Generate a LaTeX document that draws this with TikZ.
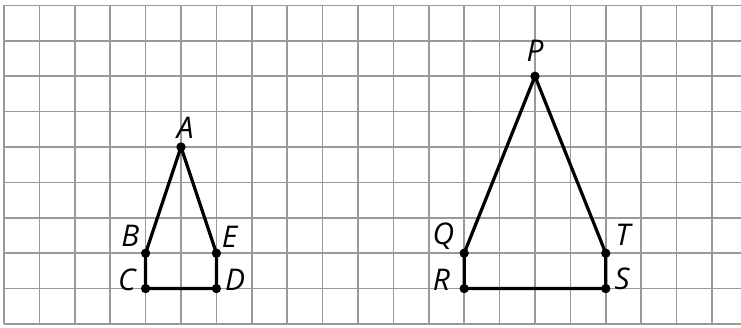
\documentclass[tikz,border=0pt]{standalone}
\usepackage{fontspec}
\setmainfont{Open Sans}
\tikzset{
    pt/.style={circle, fill=black, inner sep=0pt, minimum size=7.5pt},
    lbl/.style={font=\fontsize{24}{28}\selectfont\itshape, inner sep=1pt}
}
\begin{document}
\begin{tikzpicture}
    \useasboundingbox (-0.113,-0.085) rectangle (20.82,9.153);
    \draw[gray!80, line width=1.4pt] (0,0) grid (20.82,9);
    
    \node[pt] (A) at (5,5) {};
    \node[pt] (B) at (4,2) {};
    \node[pt] (C) at (4,1) {};
    \node[pt] (D) at (6,1) {};
    \node[pt] (E) at (6,2) {};
    
    \node[pt] (P) at (15,7) {};
    \node[pt] (Q) at (13,2) {};
    \node[pt] (R) at (13,1) {};
    \node[pt] (S) at (17,1) {};
    \node[pt] (T) at (17,2) {};
    
    \draw[line width=2.6pt, line join=round] (A.center) -- (B.center) -- (C.center) -- (D.center) -- (E.center) -- cycle;
    \draw[line width=2.6pt, line join=round] (P.center) -- (Q.center) -- (R.center) -- (S.center) -- (T.center) -- cycle;
    
    \node[lbl] (la) at (5.12,5.55) {A};
    \node[lbl] (lb) at (3.57,2.5) {B};
    \node[lbl] (lc) at (3.47,1.25) {C};
    \node[lbl] (ld) at (6.53,1.25) {D};
    \node[lbl] (le) at (6.37,2.47) {E};
    
    \node[lbl] (lp) at (15,7.72) {P};
    \node[lbl] (lq) at (12.41,2.47) {Q};
    \node[lbl] (lr) at (12.36,1.25) {R};
    \node[lbl] (ls) at (17.46,1.27) {S};
    \node[lbl] (lt) at (17.48,2.52) {T};
\end{tikzpicture}
\end{document}
